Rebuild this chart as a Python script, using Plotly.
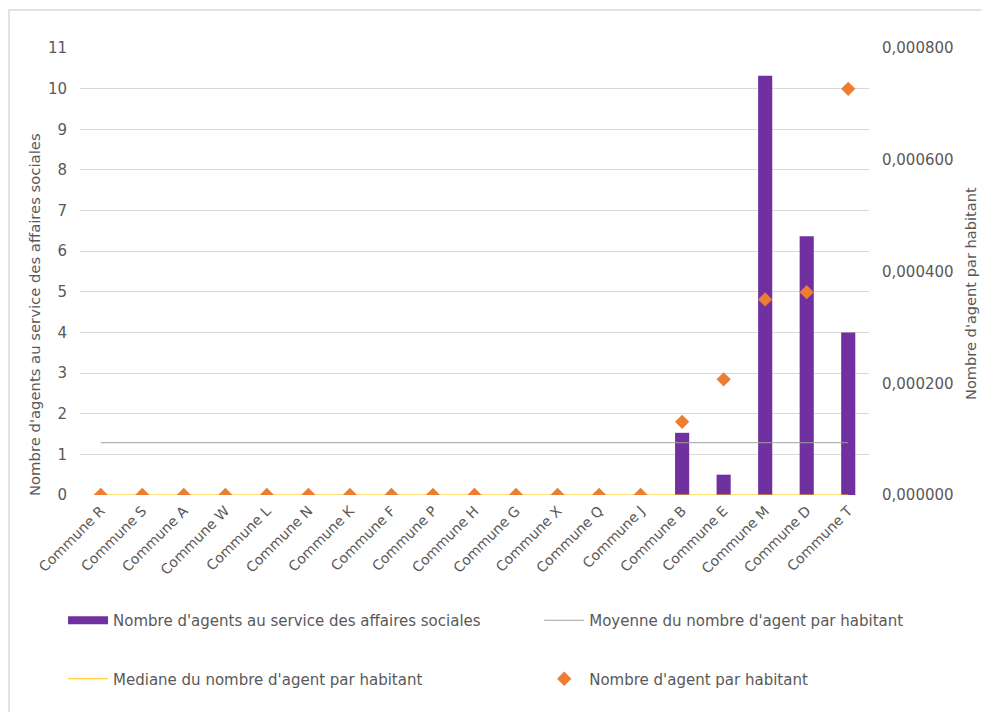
import numpy as np
import plotly.graph_objects as go

communes = ["Commune R", "Commune S", "Commune A", "Commune W", "Commune L",
            "Commune N", "Commune K", "Commune F", "Commune P", "Commune H",
            "Commune G", "Commune X", "Commune Q", "Commune J", "Commune B",
            "Commune E", "Commune M", "Commune D", "Commune T"]
agents = [0, 0, 0, 0, 0, 0, 0, 0, 0, 0, 0, 0, 0, 0, 1.53, 0.5, 10.32, 6.37, 4.0]
agents_par_habitant = [0, 0, 0, 0, 0, 0, 0, 0, 0, 0, 0, 0, 0, 0,
                       0.000131, 0.000207, 0.000350, 0.000363, 0.000727]

left_ticks = list(range(0, 12))
right_ticks = [0, 0.0002, 0.0004, 0.0006, 0.0008]

moyenne = float(np.mean(agents_par_habitant))
mediane = float(np.median(agents_par_habitant))

FONT = "DejaVu Sans"
TXT = "#595959"
GRID = "#D9D9D9"
PURPLE = "#7030A0"
BAR_NAME = "Nombre d'agents au service des affaires sociales"

fig = go.Figure()

fig.add_trace(go.Bar(
    x=communes, y=agents, name=BAR_NAME,
    marker=dict(color=PURPLE, line=dict(width=0)), width=0.34,
    yaxis="y", showlegend=False, legendgroup="bar",
))
# wide flat swatch for the bar series in the legend
fig.add_trace(go.Scatter(
    x=[None], y=[None], mode="lines", name=BAR_NAME,
    line=dict(color=PURPLE, width=8), legend="legend", legendgroup="bar",
))
fig.add_trace(go.Scatter(
    x=communes, y=[moyenne] * len(communes), mode="lines",
    name="Moyenne du nombre d'agent par habitant",
    line=dict(color="#A0A0A0", width=1), yaxis="y2",
    legend="legend2", legendgroup="moy",
))
fig.add_trace(go.Scatter(
    x=communes, y=[mediane] * len(communes), mode="lines",
    name="Mediane du nombre d'agent par habitant",
    line=dict(color="#FFC000", width=1), yaxis="y2",
    legend="legend", legendgroup="med",
))
fig.add_trace(go.Scatter(
    x=communes, y=agents_par_habitant, mode="markers",
    name="Nombre d'agent par habitant",
    marker=dict(symbol="diamond", size=11, color="#ED7D31"),
    yaxis="y2", legend="legend2", legendgroup="ratio",
))


def legend_col(x):
    return dict(
        orientation="v", x=x, xanchor="left",
        y=(495 - 649.5) / 447, yanchor="middle",
        itemwidth=40, tracegroupgap=36, traceorder="grouped",
        font=dict(size=15, color=TXT), bgcolor="rgba(0,0,0,0)",
    )


fig.update_layout(
    width=981, height=712,
    margin=dict(l=80, r=112, t=48, b=217),
    paper_bgcolor="white", plot_bgcolor="white",
    separators=", ",
    font=dict(family=FONT, size=15, color=TXT),
    xaxis=dict(
        categoryorder="array", categoryarray=communes,
        range=[-0.5, len(communes) - 0.5],
        tickangle=-45, showgrid=False, showline=False, ticks="",
        tickfont=dict(size=14, color=TXT), ticklabelstandoff=4,
    ),
    yaxis=dict(
        range=[0, 11], tickvals=left_ticks, showgrid=True, gridcolor=GRID,
        gridwidth=1, zeroline=False, showline=False, ticks="",
        tickfont=dict(size=15, color=TXT), ticklabelstandoff=12,
    ),
    yaxis2=dict(
        overlaying="y", side="right", range=[0, 0.0008], tickvals=right_ticks,
        tickformat=".6f", showgrid=False, zeroline=False, showline=False,
        ticks="", tickfont=dict(size=15, color=TXT), ticklabelstandoff=12,
    ),
    legend=legend_col(-0.0215),
    legend2=legend_col(0.582),
    showlegend=True,
    annotations=[
        dict(text=BAR_NAME,
             xref="paper", yref="paper", x=(34 - 80) / 789, y=(495 - 315) / 447,
             xanchor="center", yanchor="middle", textangle=-90, showarrow=False,
             font=dict(size=14.8, color=TXT)),
        dict(text="Nombre d'agent par habitant",
             xref="paper", yref="paper", x=(970 - 80) / 789, y=(495 - 294) / 447,
             xanchor="center", yanchor="middle", textangle=-90, showarrow=False,
             font=dict(size=14.6, color=TXT)),
    ],
    shapes=[dict(
        type="rect", xref="paper", yref="paper",
        x0=-0.09, x1=1.6, y0=-1.0, y1=1.085,
        line=dict(color=GRID, width=1.5), fillcolor="rgba(0,0,0,0)", layer="below",
    )],
)

fig.write_html("out.html")
